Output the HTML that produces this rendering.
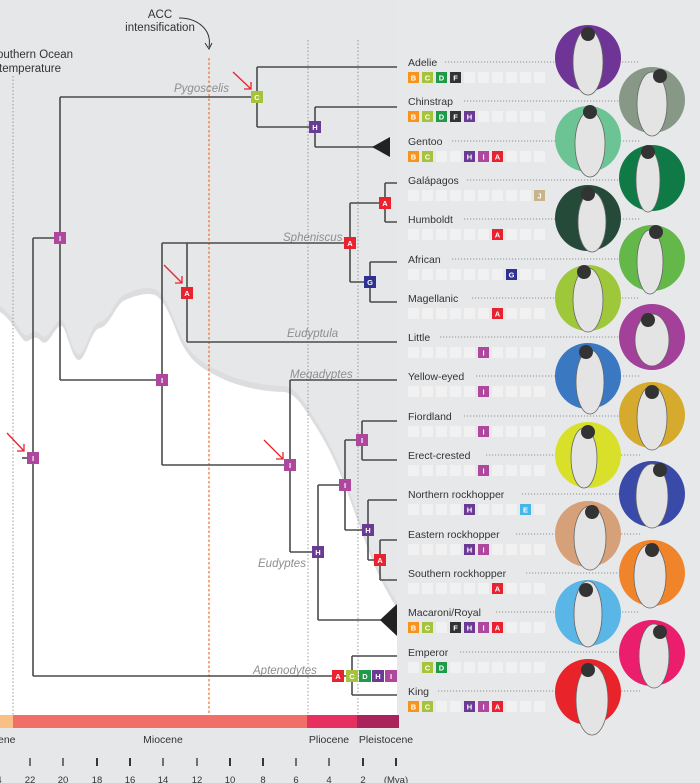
<!DOCTYPE html>
<html><head><meta charset="utf-8"><style>
html,body{margin:0;padding:0;background:#e6e7e9}
svg{display:block}
text{font-family:"Liberation Sans",sans-serif}
.lab{font-size:10.5px;fill:#333}
.gen{font-size:11.5px;fill:#8e8e8e;font-style:italic}
.bl{font-size:7.5px;font-weight:bold;fill:#fff;text-anchor:middle}
.tr{stroke:#4a4a4a;stroke-width:1.6;fill:none}
.ld{stroke:#777;stroke-width:0.8;stroke-dasharray:1.2 1.8;fill:none}
.ax{font-size:10.5px;fill:#333;text-anchor:middle}
</style></head><body>
<svg width="700" height="783" viewBox="0 0 700 783" xmlns="http://www.w3.org/2000/svg">
<defs>
<pattern id="grid" x="408" y="0" width="14" height="800" patternUnits="userSpaceOnUse">
<rect x="0" y="0" width="11" height="800" fill="#f1f1f2"/>
</pattern>
</defs>
<rect width="700" height="783" fill="#e6e7e9"/>
<path d="M0,312 C10,318 15,330 22,338 C28,348 32,332 40,340 C48,350 52,330 60,326 C66,322 70,356 78,360 C86,362 90,330 100,328 C110,326 115,305 125,300 C135,296 145,292 155,295 C165,300 172,320 180,340 C192,365 205,370 225,380 C245,388 265,392 285,392 C298,395 305,410 318,430 C330,450 340,470 352,505 C365,540 375,575 397,608 L397,715 L0,715 Z" fill="#d8d9db" transform="translate(0,-6)" opacity="0.7"/>
<path d="M0,312 C10,318 15,330 22,338 C28,348 32,332 40,340 C48,350 52,330 60,326 C66,322 70,356 78,360 C86,362 90,330 100,328 C110,326 115,305 125,300 C135,296 145,292 155,295 C165,300 172,320 180,340 C192,365 205,370 225,380 C245,388 265,392 285,392 C298,395 305,410 318,430 C330,450 340,470 352,505 C365,540 375,575 397,608 L397,715 L0,715 Z" fill="#ffffff"/>
<line x1="13" y1="76" x2="13" y2="715" stroke="#999" stroke-width="1" stroke-dasharray="1.5 2"/>
<line x1="308" y1="40" x2="308" y2="715" stroke="#999" stroke-width="1" stroke-dasharray="1.5 2"/>
<line x1="358" y1="40" x2="358" y2="715" stroke="#999" stroke-width="1" stroke-dasharray="1.5 2"/>
<line x1="209" y1="58" x2="209" y2="715" stroke="#f07a3a" stroke-width="1.3" stroke-dasharray="2.5 2"/>
<text x="160" y="18" class="ax" style="font-size:11.5px">ACC</text>
<text x="160" y="31" class="ax" style="font-size:11.5px">intensification</text>
<path d="M179,18 C198,18 212,30 209,47" fill="none" stroke="#333" stroke-width="1"/>
<path d="M205,43 L209,49 L212,43" fill="none" stroke="#333" stroke-width="1"/>
<text x="-3" y="58" style="font-size:11.5px;fill:#333">outhern Ocean</text>
<text x="-1" y="72" style="font-size:11.5px;fill:#333">temperature</text>
<text x="174" y="92" class="gen">Pygoscelis</text>
<text x="283" y="241" class="gen">Spheniscus</text>
<text x="287" y="337" class="gen">Eudyptula</text>
<text x="290" y="378" class="gen">Megadyptes</text>
<text x="258" y="567" class="gen">Eudyptes</text>
<text x="253" y="674" class="gen">Aptenodytes</text>
<g class="tr">
<path d="M22,458 H33"/>
<path d="M33,238 V676"/>
<path d="M33,238 H60 M60,97 V380 M60,97 H257 M257,67 V127 M257,67 H397 M257,127 H315 M315,107 V147 M315,107 H397 M315,147 H375"/>
<path d="M60,380 H162 M162,243 V465 M162,243 H187 M187,243 V342 M187,243 H350 M350,203 V282 M350,203 H385 M385,183 V222 M385,183 H397 M385,222 H397 M350,282 H370 M370,262 V302 M370,262 H397 M370,302 H397 M187,342 H397"/>
<path d="M162,465 H290 M290,380 V552 M290,380 H397 M290,552 H318 M318,485 V620 M318,485 H345 M345,440 V530 M345,440 H362 M362,421 V460 M362,421 H397 M362,460 H397 M345,530 H368 M368,500 V560 M368,500 H397 M368,560 H380 M380,540 V580 M380,540 H397 M380,580 H397 M318,620 H382"/>
<path d="M33,676 H352 M352,656 V695 M352,656 H397 M352,695 H397"/>
</g>
<polygon points="372,147 390,137 390,157" fill="#222"/>
<polygon points="380,620 397,604 397,636" fill="#222"/>
<g>
<rect x="27" y="452" width="12" height="12" fill="#b0479f"/><text x="33" y="461" class="bl">I</text>
<rect x="54" y="232" width="12" height="12" fill="#b0479f"/><text x="60" y="241" class="bl">I</text>
<rect x="251" y="91" width="12" height="12" fill="#a6c43a"/><text x="257" y="100" class="bl">C</text>
<rect x="309" y="121" width="12" height="12" fill="#6b3a95"/><text x="315" y="130" class="bl">H</text>
<rect x="156" y="374" width="12" height="12" fill="#b0479f"/><text x="162" y="383" class="bl">I</text>
<rect x="181" y="287" width="12" height="12" fill="#e8222e"/><text x="187" y="296" class="bl">A</text>
<rect x="344" y="237" width="12" height="12" fill="#e8222e"/><text x="350" y="246" class="bl">A</text>
<rect x="379" y="197" width="12" height="12" fill="#e8222e"/><text x="385" y="206" class="bl">A</text>
<rect x="364" y="276" width="12" height="12" fill="#2e3192"/><text x="370" y="285" class="bl">G</text>
<rect x="284" y="459" width="12" height="12" fill="#b0479f"/><text x="290" y="468" class="bl">I</text>
<rect x="312" y="546" width="12" height="12" fill="#6b3a95"/><text x="318" y="555" class="bl">H</text>
<rect x="339" y="479" width="12" height="12" fill="#b0479f"/><text x="345" y="488" class="bl">I</text>
<rect x="356" y="434" width="12" height="12" fill="#b0479f"/><text x="362" y="443" class="bl">I</text>
<rect x="362" y="524" width="12" height="12" fill="#6b3a95"/><text x="368" y="533" class="bl">H</text>
<rect x="374" y="554" width="12" height="12" fill="#e8222e"/><text x="380" y="563" class="bl">A</text>
<rect x="332" y="670" width="12" height="12" fill="#e8222e"/><text x="338" y="679" class="bl">A</text>
<rect x="346" y="670" width="12" height="12" fill="#a6c43a"/><text x="352" y="679" class="bl">C</text>
<rect x="359" y="670" width="12" height="12" fill="#1f9a48"/><text x="365" y="679" class="bl">D</text>
<rect x="372" y="670" width="12" height="12" fill="#6b3a95"/><text x="378" y="679" class="bl">H</text>
<rect x="385" y="670" width="12" height="12" fill="#b0479f"/><text x="391" y="679" class="bl">I</text>
</g>
<g stroke="#e8222e" stroke-width="1.3" fill="none">
<path d="M233,72 L251,89 M244,89 L251,89 L251,82"/>
<path d="M164,265 L182,283 M175,283 L182,283 L182,276"/>
<path d="M264,440 L283,459 M276,459 L283,459 L283,452"/>
<path d="M7,433 L24,451 M17,451 L24,451 L24,444"/>
</g>
<rect x="397" y="0" width="303" height="783" fill="#e7e8ea"/>
<g class="ld">
<path d="M445,62 H640"/><path d="M464,101 H640"/><path d="M452,141 H640"/><path d="M467,180 H640"/><path d="M464,219 H640"/><path d="M452,259 H640"/><path d="M472,298 H640"/><path d="M440,337 H640"/><path d="M476,376 H640"/><path d="M464,416 H640"/><path d="M486,455 H640"/><path d="M522,494 H640"/><path d="M516,534 H640"/><path d="M526,573 H640"/><path d="M496,612 H640"/><path d="M460,652 H640"/><path d="M438,691 H640"/>
</g>
<g class="lab">
<text x="408" y="66">Adelie</text><text x="408" y="105">Chinstrap</text><text x="408" y="145">Gentoo</text><text x="408" y="184">Galápagos</text><text x="408" y="223">Humboldt</text><text x="408" y="263">African</text><text x="408" y="302">Magellanic</text><text x="408" y="341">Little</text><text x="408" y="380">Yellow-eyed</text><text x="408" y="420">Fiordland</text><text x="408" y="459">Erect-crested</text><text x="408" y="498">Northern rockhopper</text><text x="408" y="538">Eastern rockhopper</text><text x="408" y="577">Southern rockhopper</text><text x="408" y="616">Macaroni/Royal</text><text x="408" y="656">Emperor</text><text x="408" y="695">King</text>
</g>
<g fill="url(#grid)">
<rect x="408" y="72" width="137" height="11"/><rect x="408" y="111" width="137" height="11"/><rect x="408" y="151" width="137" height="11"/><rect x="408" y="190" width="137" height="11"/><rect x="408" y="229" width="137" height="11"/><rect x="408" y="269" width="137" height="11"/><rect x="408" y="308" width="137" height="11"/><rect x="408" y="347" width="137" height="11"/><rect x="408" y="386" width="137" height="11"/><rect x="408" y="426" width="137" height="11"/><rect x="408" y="465" width="137" height="11"/><rect x="408" y="504" width="137" height="11"/><rect x="408" y="544" width="137" height="11"/><rect x="408" y="583" width="137" height="11"/><rect x="408" y="622" width="137" height="11"/><rect x="408" y="662" width="137" height="11"/><rect x="408" y="701" width="137" height="11"/>
</g>
<g>
<rect x="408" y="72" width="11" height="11" fill="#f7941d"/><text x="413.5" y="80.5" class="bl">B</text>
<rect x="422" y="72" width="11" height="11" fill="#a6c43a"/><text x="427.5" y="80.5" class="bl">C</text>
<rect x="436" y="72" width="11" height="11" fill="#1f9a48"/><text x="441.5" y="80.5" class="bl">D</text>
<rect x="450" y="72" width="11" height="11" fill="#333"/><text x="455.5" y="80.5" class="bl">F</text>
<rect x="408" y="111" width="11" height="11" fill="#f7941d"/><text x="413.5" y="119.5" class="bl">B</text>
<rect x="422" y="111" width="11" height="11" fill="#a6c43a"/><text x="427.5" y="119.5" class="bl">C</text>
<rect x="436" y="111" width="11" height="11" fill="#1f9a48"/><text x="441.5" y="119.5" class="bl">D</text>
<rect x="450" y="111" width="11" height="11" fill="#333"/><text x="455.5" y="119.5" class="bl">F</text>
<rect x="464" y="111" width="11" height="11" fill="#6b3a95"/><text x="469.5" y="119.5" class="bl">H</text>
<rect x="408" y="151" width="11" height="11" fill="#f7941d"/><text x="413.5" y="159.5" class="bl">B</text>
<rect x="422" y="151" width="11" height="11" fill="#a6c43a"/><text x="427.5" y="159.5" class="bl">C</text>
<rect x="464" y="151" width="11" height="11" fill="#6b3a95"/><text x="469.5" y="159.5" class="bl">H</text>
<rect x="478" y="151" width="11" height="11" fill="#b0479f"/><text x="483.5" y="159.5" class="bl">I</text>
<rect x="492" y="151" width="11" height="11" fill="#e8222e"/><text x="497.5" y="159.5" class="bl">A</text>
<rect x="534" y="190" width="11" height="11" fill="#c8b48a"/><text x="539.5" y="198.5" class="bl">J</text>
<rect x="492" y="229" width="11" height="11" fill="#e8222e"/><text x="497.5" y="237.5" class="bl">A</text>
<rect x="506" y="269" width="11" height="11" fill="#2e3192"/><text x="511.5" y="277.5" class="bl">G</text>
<rect x="492" y="308" width="11" height="11" fill="#e8222e"/><text x="497.5" y="316.5" class="bl">A</text>
<rect x="478" y="347" width="11" height="11" fill="#b0479f"/><text x="483.5" y="355.5" class="bl">I</text>
<rect x="478" y="386" width="11" height="11" fill="#b0479f"/><text x="483.5" y="394.5" class="bl">I</text>
<rect x="478" y="426" width="11" height="11" fill="#b0479f"/><text x="483.5" y="434.5" class="bl">I</text>
<rect x="478" y="465" width="11" height="11" fill="#b0479f"/><text x="483.5" y="473.5" class="bl">I</text>
<rect x="464" y="504" width="11" height="11" fill="#6b3a95"/><text x="469.5" y="512.5" class="bl">H</text>
<rect x="520" y="504" width="11" height="11" fill="#45b6e8"/><text x="525.5" y="512.5" class="bl">E</text>
<rect x="464" y="544" width="11" height="11" fill="#6b3a95"/><text x="469.5" y="552.5" class="bl">H</text>
<rect x="478" y="544" width="11" height="11" fill="#b0479f"/><text x="483.5" y="552.5" class="bl">I</text>
<rect x="492" y="583" width="11" height="11" fill="#e8222e"/><text x="497.5" y="591.5" class="bl">A</text>
<rect x="408" y="622" width="11" height="11" fill="#f7941d"/><text x="413.5" y="630.5" class="bl">B</text>
<rect x="422" y="622" width="11" height="11" fill="#a6c43a"/><text x="427.5" y="630.5" class="bl">C</text>
<rect x="450" y="622" width="11" height="11" fill="#333"/><text x="455.5" y="630.5" class="bl">F</text>
<rect x="464" y="622" width="11" height="11" fill="#6b3a95"/><text x="469.5" y="630.5" class="bl">H</text>
<rect x="478" y="622" width="11" height="11" fill="#b0479f"/><text x="483.5" y="630.5" class="bl">I</text>
<rect x="492" y="622" width="11" height="11" fill="#e8222e"/><text x="497.5" y="630.5" class="bl">A</text>
<rect x="422" y="662" width="11" height="11" fill="#a6c43a"/><text x="427.5" y="670.5" class="bl">C</text>
<rect x="436" y="662" width="11" height="11" fill="#1f9a48"/><text x="441.5" y="670.5" class="bl">D</text>
<rect x="408" y="701" width="11" height="11" fill="#f7941d"/><text x="413.5" y="709.5" class="bl">B</text>
<rect x="422" y="701" width="11" height="11" fill="#a6c43a"/><text x="427.5" y="709.5" class="bl">C</text>
<rect x="464" y="701" width="11" height="11" fill="#6b3a95"/><text x="469.5" y="709.5" class="bl">H</text>
<rect x="478" y="701" width="11" height="11" fill="#b0479f"/><text x="483.5" y="709.5" class="bl">I</text>
<rect x="492" y="701" width="11" height="11" fill="#e8222e"/><text x="497.5" y="709.5" class="bl">A</text>
</g>
<g>
<circle cx="588" cy="58" r="33" fill="#6e3596"/>
<circle cx="652" cy="100" r="33" fill="#879886"/>
<circle cx="588" cy="139" r="33" fill="#6cc494"/>
<circle cx="652" cy="178" r="33" fill="#0f7a45"/>
<circle cx="588" cy="218" r="33" fill="#264a3a"/>
<circle cx="652" cy="258" r="33" fill="#64b84a"/>
<circle cx="588" cy="298" r="33" fill="#9ec83a"/>
<circle cx="652" cy="337" r="33" fill="#a2409a"/>
<circle cx="588" cy="376" r="33" fill="#3a78c2"/>
<circle cx="652" cy="415" r="33" fill="#d6aa2c"/>
<circle cx="588" cy="455" r="33" fill="#d8e02a"/>
<circle cx="652" cy="494" r="33" fill="#3a4aa8"/>
<circle cx="588" cy="534" r="33" fill="#d6a078"/>
<circle cx="652" cy="573" r="33" fill="#f0842a"/>
<circle cx="588" cy="613" r="33" fill="#5ab6e6"/>
<circle cx="652" cy="653" r="33" fill="#ea1e6c"/>
<circle cx="588" cy="692" r="33" fill="#e8242a"/>
</g>
<g fill="#e4e4e4" stroke="#666" stroke-width="0.8">
<ellipse cx="588" cy="62" rx="15" ry="33"/><ellipse cx="652" cy="104" rx="15" ry="32"/><ellipse cx="590" cy="144" rx="15" ry="33"/><ellipse cx="648" cy="180" rx="12" ry="32"/><ellipse cx="592" cy="222" rx="14" ry="30"/><ellipse cx="650" cy="262" rx="13" ry="32"/><ellipse cx="588" cy="300" rx="15" ry="32"/><ellipse cx="652" cy="340" rx="17" ry="26"/><ellipse cx="590" cy="382" rx="14" ry="32"/><ellipse cx="652" cy="418" rx="15" ry="32"/><ellipse cx="584" cy="458" rx="13" ry="30"/><ellipse cx="652" cy="496" rx="16" ry="32"/><ellipse cx="590" cy="538" rx="16" ry="32"/><ellipse cx="650" cy="576" rx="16" ry="32"/><ellipse cx="588" cy="614" rx="14" ry="33"/><ellipse cx="654" cy="656" rx="15" ry="32"/><ellipse cx="592" cy="700" rx="16" ry="35"/>
</g>
<g fill="#333">
<circle cx="588" cy="34" r="7"/><circle cx="660" cy="76" r="7"/><circle cx="590" cy="112" r="7"/><circle cx="648" cy="152" r="7"/><circle cx="588" cy="194" r="7"/><circle cx="656" cy="232" r="7"/><circle cx="584" cy="272" r="7"/><circle cx="648" cy="320" r="7"/><circle cx="586" cy="352" r="7"/><circle cx="652" cy="392" r="7"/><circle cx="588" cy="432" r="7"/><circle cx="660" cy="470" r="7"/><circle cx="592" cy="512" r="7"/><circle cx="652" cy="550" r="7"/><circle cx="586" cy="590" r="7"/><circle cx="660" cy="632" r="7"/><circle cx="588" cy="670" r="7"/>
</g>
<rect x="0" y="715" width="13" height="13" fill="#f8c084"/>
<rect x="13" y="715" width="294" height="13" fill="#f07068"/>
<rect x="307" y="715" width="50" height="13" fill="#e83060"/>
<rect x="357" y="715" width="42" height="13" fill="#a8245a"/>
<text x="-2" y="743" style="font-size:10.5px;fill:#333">ene</text>
<text x="163" y="743" class="ax">Miocene</text>
<text x="329" y="743" class="ax">Pliocene</text>
<text x="386" y="743" class="ax">Pleistocene</text>
<g stroke="#222" stroke-width="1.2">
<line x1="30" y1="758" x2="30" y2="766"/><line x1="63" y1="758" x2="63" y2="766"/><line x1="97" y1="758" x2="97" y2="766" stroke-width="1.8"/><line x1="130" y1="758" x2="130" y2="766" stroke-width="1.8"/><line x1="163" y1="758" x2="163" y2="766"/><line x1="197" y1="758" x2="197" y2="766"/><line x1="230" y1="758" x2="230" y2="766" stroke-width="1.8"/><line x1="263" y1="758" x2="263" y2="766" stroke-width="1.8"/><line x1="296" y1="758" x2="296" y2="766"/><line x1="329" y1="758" x2="329" y2="766"/><line x1="363" y1="758" x2="363" y2="766" stroke-width="1.8"/><line x1="396" y1="758" x2="396" y2="766" stroke-width="1.8"/>
</g>
<g class="ax" style="font-size:9.5px">
<text x="-1" y="783">4</text><text x="30" y="783">22</text><text x="63" y="783">20</text><text x="97" y="783">18</text><text x="130" y="783">16</text><text x="163" y="783">14</text><text x="197" y="783">12</text><text x="230" y="783">10</text><text x="263" y="783">8</text><text x="296" y="783">6</text><text x="329" y="783">4</text><text x="363" y="783">2</text><text x="396" y="783">(Mya)</text>
</g>
</svg>
</body></html>
